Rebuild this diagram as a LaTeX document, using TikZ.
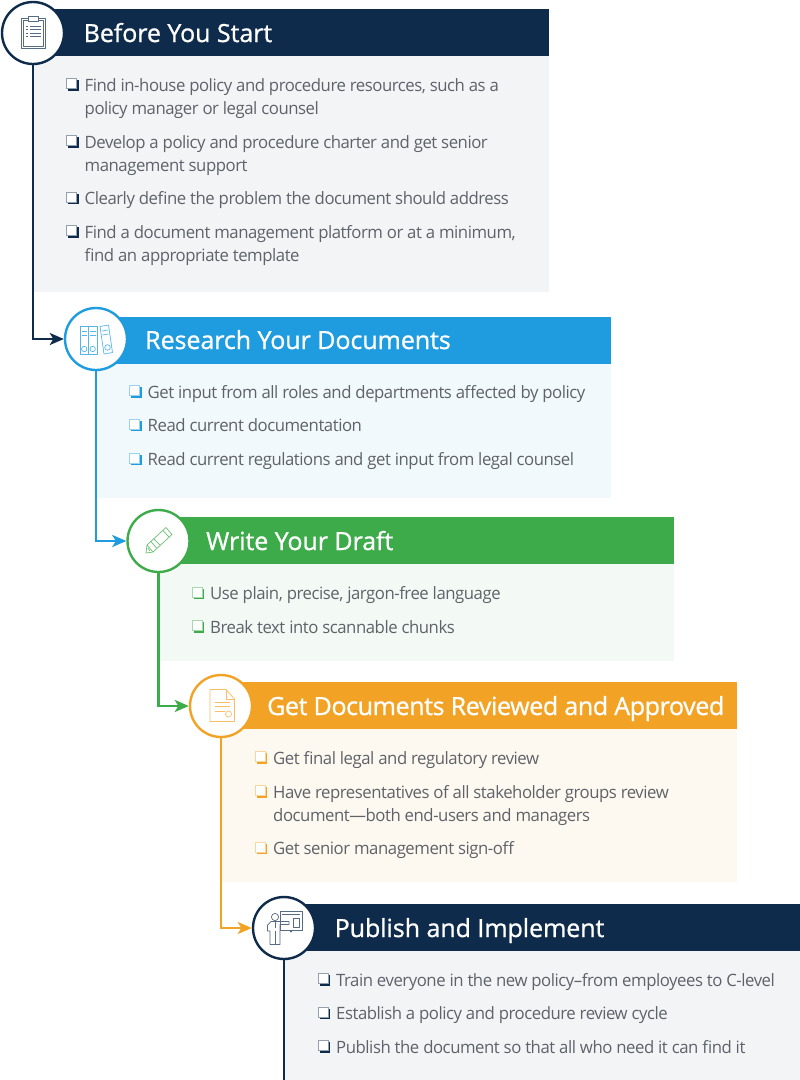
\documentclass[tikz,border=0pt]{standalone}
\usepackage{fontspec}
\setmainfont{Open Sans}
\newfontfamily\bodyfont[LetterSpace=-2.7,FakeStretch=0.985]{Open Sans}
\newfontfamily\headfont[FakeBold=0.9,LetterSpace=-0.2]{Open Sans}
\newfontfamily\headtightfont[FakeBold=0.9,LetterSpace=-1.5]{Open Sans}
\usetikzlibrary{arrows.meta}
\definecolor{navy}{HTML}{0F2B4C}
\definecolor{sky}{HTML}{1F9CE0}
\definecolor{leaf}{HTML}{3EAB4A}
\definecolor{amber}{HTML}{F2A325}
\definecolor{pnavy}{HTML}{F2F4F6}
\definecolor{psky}{HTML}{F1F9FD}
\definecolor{pleaf}{HTML}{F3F9F5}
\definecolor{pamber}{HTML}{FEF9F0}
\definecolor{bodytext}{HTML}{5F6369}
\tikzset{
  x=1pt,y=-1pt,
  panelbox/.style={anchor=north west,inner sep=0pt,minimum height=#1},
  headbar/.style={anchor=west,inner sep=0pt,minimum height=47pt},
  headtext/.style={anchor=base west,inner sep=0pt,text=white,font=\headfont\fontsize{25}{30}\selectfont},
  ringnode/.style={circle,draw=#1,line width=2.4pt,fill=white,minimum size=62pt,inner sep=0pt},
  bodyline/.style={anchor=north west,inner sep=0pt,align=left,text=bodytext,font=\bodyfont\fontsize{17}{23}\selectfont},
  flow/.style={draw=#1,line width=2.2pt,-{Stealth[length=14pt,width=12pt,inset=3.5pt]}},
  stem/.style={draw=#1,line width=2.2pt},
  ico/.style={draw=#1,line width=0.7pt,line join=round},
}
% checkbox: name, x, first-line centre y, colour, text
\newcommand{\bitem}[5]{%
  \fill[#4] (#2+2.2,#3-5) rectangle (#2+12.6,#3+5.6);
  \draw[#4!45!white,line width=0.8pt,fill=white] (#2+0.5,#3-6.2) rectangle (#2+10.8,#3+3.8);
  \node[bodyline] (#1) at (#2+18.5,#3-7) {#5};
}
\begin{document}
\begin{tikzpicture}
\useasboundingbox (0,0) rectangle (800,1080);
\fill[white] (0,0) rectangle (800,1080);
% panels
\node[panelbox=236pt,minimum width=516pt,fill=pnavy] (p1) at (33,56) {};
\node[panelbox=135pt,minimum width=515pt,fill=psky] (p2) at (96,363) {};
\node[panelbox=97pt,minimum width=515.5pt,fill=pleaf] (p3) at (158.5,564) {};
\node[panelbox=153pt,minimum width=516pt,fill=pamber] (p4) at (221,729) {};
\node[panelbox=129pt,minimum width=516pt,fill=pnavy] (p5) at (284,951) {};
% header bars
\node[headbar,minimum width=516pt,fill=navy] (h1) at (33,32.5) {};
\node[headbar,minimum width=515pt,fill=sky] (h2) at (96,340) {};
\node[headbar,minimum width=515.5pt,fill=leaf] (h3) at (158.5,540.5) {};
\node[headbar,minimum width=516pt,fill=amber] (h4) at (221,705.5) {};
\node[headbar,minimum width=516pt,fill=navy] (h5) at (284,927.5) {};
% header text
\node[headtext] (t1) at (83.5,42) {Before You Start};
\node[headtext] (t2) at (145,349) {Research Your Documents};
\node[headtext] (t3) at (206,550) {Write Your Draft};
\node[headtext,font=\headtightfont\fontsize{25}{30}\selectfont] (t4) at (267,715) {Get Documents Reviewed and Approved};
\node[headtext] (t5) at (334.5,937) {Publish and Implement};
% rings
\node[ringnode=navy] (c1) at (33,33) {};
\node[ringnode=sky] (c2) at (96,339) {};
\node[ringnode=leaf] (c3) at (158.5,541) {};
\node[ringnode=amber] (c4) at (221,706) {};
\node[ringnode=navy] (c5) at (284,928) {};
% connectors
\coordinate (endline) at (284,1080);
\draw[flow=navy] (c1.south) |- (c2.west);
\draw[flow=sky] (c2.south) |- (c3.west);
\draw[flow=leaf] (c3.south) |- (c4.west);
\draw[flow=amber] (c4.south) |- (c5.west);
\draw[stem=navy] (c5.south) -- (endline);
% bullets 1
\bitem{a1}{66}{85}{navy}{Find in-house policy and procedure resources, such as a\\policy manager or legal counsel}
\bitem{a2}{66}{142}{navy}{Develop a policy and procedure charter and get senior\\management support}
\bitem{a3}{66}{198.5}{navy}{Clearly define the problem the document should address}
\bitem{a4}{66}{232}{navy}{Find a document management platform or at a minimum,\\find an appropriate template}
% bullets 2
\bitem{b1}{129}{392}{sky}{Get input from all roles and departments affected by policy}
\bitem{b2}{129}{425.5}{sky}{Read current documentation}
\bitem{b3}{129}{459.5}{sky}{Read current regulations and get input from legal counsel}
% bullets 3
\bitem{d1}{191.5}{593.5}{leaf}{Use plain, precise, jargon-free language}
\bitem{d2}{191.5}{627}{leaf}{Break text into scannable chunks}
% bullets 4
\bitem{e1}{254.5}{758}{amber}{Get final legal and regulatory review}
\bitem{e2}{254.5}{792}{amber}{Have representatives of all stakeholder groups review\\document—both end-users and managers}
\bitem{e3}{254.5}{848.5}{amber}{Get senior management sign-off}
% bullets 5
\bitem{f1}{317.5}{980}{navy}{Train everyone in the new policy–from employees to C-level}
\bitem{f2}{317.5}{1013.5}{navy}{Establish a policy and procedure review cycle}
\bitem{f3}{317.5}{1047}{navy}{Publish the document so that all who need it can find it}
% clipboard icon
\begin{scope}[ico=navy!70!white]
\draw (21,18) rectangle (45,48.5);
\draw (23,20.5) rectangle (43,46.5);
\draw[fill=white] (28,16) rectangle (38,21);
\foreach \yy in {26,29.5,33,36.5}{\draw (26,\yy) -- (28,\yy) (29.5,\yy) -- (40.5,\yy);}
\end{scope}
% binders icon
\begin{scope}[ico=sky!75!white]
\draw (80,326) rectangle (88.5,354);
\draw (88.5,326) rectangle (97,354);
\foreach \xx in {80,88.5}{
  \draw (\xx+1.5,331) -- (\xx+7,331) (\xx+1.5,335) -- (\xx+7,335);
  \draw (\xx+4.2,349) circle (2.7);
}
\draw (100,326.5) -- (108.5,325) -- (112.5,352.5) -- (104,354) -- cycle;
\draw (102,331) -- (108,330) (102.5,335) -- (108.5,334);
\draw (107.5,347.5) circle (2.8);
\end{scope}
% pencil icon
\begin{scope}[ico=leaf!75!white]
\draw (146,553) -- (147,545) -- (166,527.5) -- (172,534.5) -- (153,552) -- cycle;
\draw (147,545) -- (153,552) (150.5,541) -- (156.5,548) (153.5,538.5) -- (160,545)  (163,530.5) -- (169,537);
\draw (148,548) -- (150,551);
\end{scope}
% document icon
\begin{scope}[ico=amber!70!white]
\draw (210,689.5) -- (226,689.5) -- (234.5,699) -- (234.5,721.5) -- (210,721.5) -- cycle;
\draw (226,689.5) -- (226,699) -- (234.5,699);
\draw (214.5,702) -- (230,702) (214.5,706.5) -- (230,706.5) (214.5,711) -- (225,711);
\draw[fill=white] (228.5,714) circle (3);
\end{scope}
% presenter icon
\begin{scope}[ico=navy!70!white]
\draw (280,911.5) rectangle (302,930);
\draw (282,914) -- (300,914);
\draw (293,918) rectangle (299,927);
\draw (291,930) -- (291,931.5);
\fill[navy!70!white] (291,931.5) circle (1.2);
\draw (275,917) circle (3.6);
\draw (270,944.5) -- (270,931) -- (267.5,931) -- (267.5,925) -- (271,921.5) -- (279,921.5) -- (289,921.5) -- (289,924.5) -- (280,924.5) -- (280,931) -- (280,944.5) -- cycle;
\draw (275,931) -- (275,944.5);
\draw (275,921.5) -- (275,928);
\end{scope}
\end{tikzpicture}
\end{document}
